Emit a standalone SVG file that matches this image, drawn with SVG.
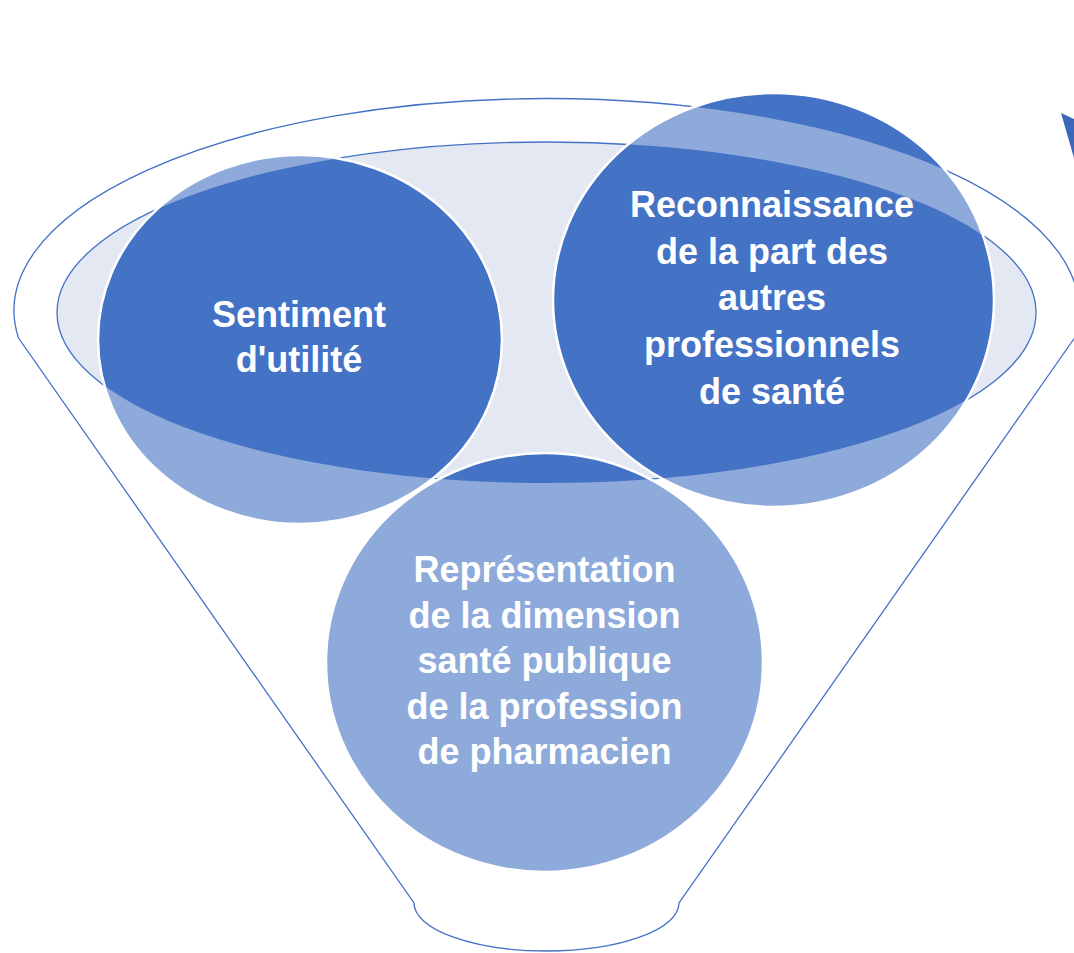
<svg xmlns="http://www.w3.org/2000/svg" xmlns:xlink="http://www.w3.org/1999/xlink" width="1074" height="953" viewBox="0 0 1074 953">
<style>
.rim{fill:#ffffff;stroke:#4472C4;stroke-width:1.3}
.mouth{fill:#E3E8F3;stroke:#4472C4;stroke-width:1.3}
.disc{fill:#4472C4;stroke:#ffffff;stroke-width:2.5}
.veil{fill:#ffffff;fill-opacity:0.4}
.lbl{font-family:"Liberation Sans",Arial,sans-serif;font-weight:bold;font-size:36px;fill:#ffffff;text-anchor:middle}
</style>
<defs>
<path id="body" fill-rule="evenodd" d="M 18.5 338 A 532.5 212 0 1 1 1074.5 338 L 679 903 A 132.5 48 0 0 1 414 903 Z M 57 312.5 A 489.5 170.5 0 1 0 1036 312.5 A 489.5 170.5 0 1 0 57 312.5 Z"/>
<clipPath id="clipL"><ellipse cx="300" cy="339.5" rx="202" ry="184.5"/></clipPath>
<clipPath id="clipR"><ellipse cx="773.5" cy="300" rx="220.5" ry="207"/></clipPath>
<clipPath id="clipB"><ellipse cx="544.5" cy="662.5" rx="218.5" ry="209.5"/></clipPath>
</defs>
<rect width="1074" height="953" fill="#ffffff"/>
<g id="funnel">
<path class="rim" d="M 18.5 338 A 532.5 212 0 1 1 1074.5 338 L 679 903 A 132.5 48 0 0 1 414 903 Z"/>
<ellipse class="mouth" cx="546.5" cy="312.5" rx="489.5" ry="170.5"/>
</g>
<g id="arrow">
<polygon points="1061,113 1074,119 1074,158" fill="#3C67B8"/>
</g>
<g id="node-sentiment">
<ellipse class="disc" cx="300" cy="339.5" rx="202" ry="184.5"/>
<use xlink:href="#body" class="veil" clip-path="url(#clipL)"/>
<text class="lbl" x="299" y="327">Sentiment</text>
<text class="lbl" x="299" y="372">d'utilité</text>
</g>
<g id="node-reconnaissance">
<ellipse class="disc" cx="773.5" cy="300" rx="220.5" ry="207"/>
<use xlink:href="#body" class="veil" clip-path="url(#clipR)"/>
<text class="lbl" x="772" y="217">Reconnaissance</text>
<text class="lbl" x="772" y="263.5">de la part des</text>
<text class="lbl" x="772" y="310">autres</text>
<text class="lbl" x="772" y="357">professionnels</text>
<text class="lbl" x="772" y="404">de santé</text>
</g>
<g id="node-representation">
<ellipse class="disc" cx="544.5" cy="662.5" rx="218.5" ry="209.5"/>
<use xlink:href="#body" class="veil" clip-path="url(#clipB)"/>
<text class="lbl" x="544.5" y="582">Représentation</text>
<text class="lbl" x="544.5" y="627.5">de la dimension</text>
<text class="lbl" x="544.5" y="673">santé publique</text>
<text class="lbl" x="544.5" y="718.5">de la profession</text>
<text class="lbl" x="544.5" y="764">de pharmacien</text>
</g>
<g id="connectors"></g>
</svg>
